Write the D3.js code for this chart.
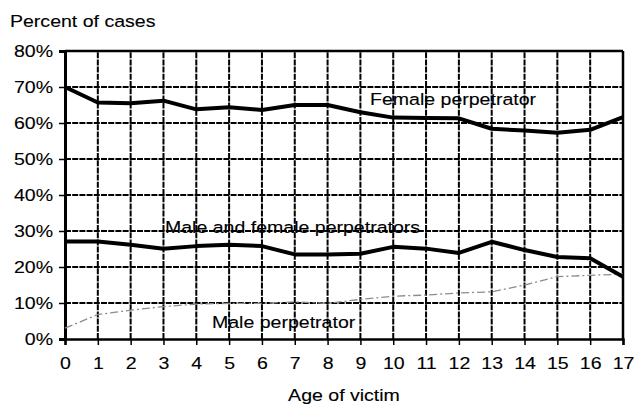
<!DOCTYPE html>
<html>
<head>
<meta charset="utf-8">
<script src="https://cdn.jsdelivr.net/npm/d3@7"></script>
<style>
  body { margin: 0; background: #fff; }
  text { font-family: "Liberation Sans", Arial, sans-serif; fill: #000; stroke: #000; stroke-width: 0.12px; }
</style>
</head>
<body>
<div id="chart"></div>
<script>
var WIDTH = 639;
var HEIGHT = 408;
var STRETCH = 1.15; // the scanned text is a little wider than Arial

var ages = d3.range(0, 18);
var yTicks = [0, 10, 20, 30, 40, 50, 60, 70, 80];
var femaleValues = [70, 65.7, 65.5, 66.2, 63.8, 64.4, 63.6, 65, 65, 63, 61.5, 61.4, 61.3, 58.4, 57.9, 57.3, 58.1, 61.6];
var bothValues = [27.1, 27.1, 26.2, 25.1, 25.8, 26.2, 25.8, 23.5, 23.5, 23.7, 25.6, 25.1, 23.9, 27, 24.7, 22.8, 22.4, 17.3];
var maleValues = [3, 6.8, 8, 9, 9.7, 9.9, 9.9, 10.3, 9.9, 11, 11.9, 12.2, 12.8, 13.1, 15, 17.3, 17.7, 18];

var margin = { top: 51, right: 16, bottom: 69, left: 65 };

var svg = d3.select("#chart").append("svg")
  .attr("width", WIDTH)
  .attr("height", HEIGHT);

var x = d3.scaleLinear().domain([0, 17]).range([margin.left, WIDTH - margin.right]);
var y = d3.scaleLinear().domain([0, 80]).range([HEIGHT - margin.bottom, margin.top]);

// dashed grid
var grid = svg.append("g")
  .attr("stroke", "#000")
  .attr("stroke-width", 2)
  .attr("stroke-dasharray", "6,1.2");
grid.selectAll(".hgrid")
  .data(yTicks.filter(function(d) { return d > 0 && d < 80; }))
  .enter().append("line")
  .attr("x1", x(0)).attr("x2", x(17))
  .attr("y1", function(d) { return y(d); })
  .attr("y2", function(d) { return y(d); });
grid.selectAll(".vgrid")
  .data(ages.filter(function(d) { return d > 0 && d < 17; }))
  .enter().append("line")
  .attr("y1", y(0)).attr("y2", y(80))
  .attr("x1", function(d) { return x(d); })
  .attr("x2", function(d) { return x(d); });

// plot border
svg.append("line").attr("x1", x(0)).attr("x2", x(17)).attr("y1", y(80)).attr("y2", y(80))
  .attr("stroke", "#000").attr("stroke-width", 2.5);
svg.append("line").attr("x1", x(17)).attr("x2", x(17)).attr("y1", y(80)).attr("y2", y(0))
  .attr("stroke", "#000").attr("stroke-width", 2.5);

// axes
var yAxis = svg.append("g")
  .attr("transform", "translate(" + x(0) + ",0)")
  .call(d3.axisLeft(y).tickValues(yTicks).tickSize(6).tickPadding(6)
    .tickFormat(function(d) { return d + "%"; }));
yAxis.select(".domain").attr("stroke-width", 3);
yAxis.selectAll(".tick line").attr("stroke-width", 1.5);

var xAxis = svg.append("g")
  .attr("transform", "translate(0," + y(0) + ")")
  .call(d3.axisBottom(x).tickValues(ages).tickSize(6).tickPadding(12)
    .tickFormat(d3.format("d")));
xAxis.select(".domain").attr("stroke-width", 2.5);
xAxis.selectAll(".tick line").attr("stroke-width", 1.5);

// lines
var line = d3.line()
  .x(function(d, i) { return x(ages[i]); })
  .y(function(d) { return y(d); });

svg.append("path")
  .datum(maleValues)
  .attr("d", line)
  .attr("fill", "none")
  .attr("stroke", "#8c8c8c")
  .attr("stroke-width", 1.3)
  .attr("stroke-dasharray", "8,3,2,3");

svg.append("path")
  .datum(bothValues)
  .attr("d", line)
  .attr("fill", "none")
  .attr("stroke", "#000")
  .attr("stroke-width", 4)
  .attr("stroke-linejoin", "round");

svg.append("path")
  .datum(femaleValues)
  .attr("d", line)
  .attr("fill", "none")
  .attr("stroke", "#000")
  .attr("stroke-width", 4)
  .attr("stroke-linejoin", "round");

// series labels
svg.append("text").attr("x", 370).attr("y", 105).text("Female perpetrator");
svg.append("text").attr("x", 165).attr("y", 233).text("Male and female perpetrators");
svg.append("text").attr("x", 212).attr("y", 328).text("Male perpetrator");

// axis titles
svg.append("text").attr("x", 10).attr("y", 27).text("Percent of cases");
svg.append("text").attr("x", 344).attr("y", 401)
  .attr("text-anchor", "middle").text("Age of victim");

// widen every text horizontally around its anchor
svg.selectAll("text").style("font-size", "17px").each(function() {
  var tx = +this.getAttribute("x") || 0;
  this.setAttribute("x", tx / STRETCH);
  this.setAttribute("transform", "scale(" + STRETCH + ",1)");
});
</script>
</body>
</html>
